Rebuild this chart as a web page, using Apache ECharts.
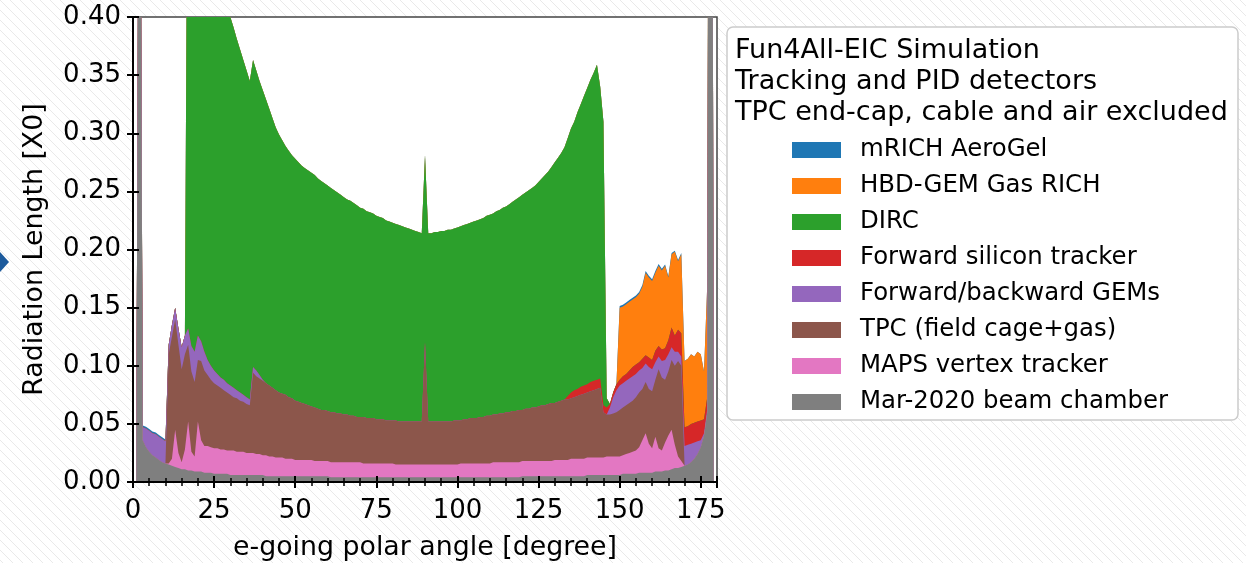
<!DOCTYPE html>
<html><head><meta charset="utf-8">
<script src="https://cdn.jsdelivr.net/npm/echarts@6/dist/echarts.min.js"></script>
<style>html,body{margin:0;padding:0;background:#fff}#c{width:1246px;height:563px}</style>
</head><body><div id="c"></div>
<script>
// x grid: polar angle bins (degrees), one per degree
const angles = Array.from({length: 181}, (_, i) => i);

const yTicks = [0, 0.05, 0.10, 0.15, 0.20, 0.25, 0.30, 0.35, 0.40];
const xTicks = [0, 25, 50, 75, 100, 125, 150, 175];

// Per-detector radiation length (layer thickness, X0) per degree bin
const beamChamber = [
 0,0,0.8,.036,.030,.026,.023,.021,.019,.017,
 .016,.015,.014,.013,.012,.011,.011,.010,.010,.009,
 .009,.009,.008,.008,.008,.007,.007,.007,.007,.007,
 .006,.006,.006,.006,.006,.006,.006,.006,.006,.006,
 .006,.005,.005,.005,.005,.005,.005,.005,.005,.005,
 .005,.005,.005,.005,.005,.005,.005,.005,.005,.005,
 .005,.004,.004,.004,.004,.004,.004,.004,.004,.004,
 .004,.004,.004,.004,.004,.004,.004,.004,.004,.004,
 .004,.004,.004,.004,.004,.004,.004,.004,.004,.004,
 .004,.004,.004,.004,.004,.004,.004,.004,.004,.004,
 .004,.004,.004,.004,.004,.004,.004,.004,.004,.004,
 .004,.004,.004,.004,.004,.004,.004,.004,.004,.004,
 .005,.005,.005,.005,.005,.005,.005,.005,.005,.005,
 .005,.005,.005,.005,.005,.005,.005,.005,.005,.005,
 .006,.006,.006,.006,.006,.006,.006,.006,.006,.006,
 .006,.007,.007,.007,.007,.007,.008,.008,.008,.008,
 .008,.009,.009,.009,.010,.010,.011,.012,.012,.013,
 .014,.015,.017,.020,.024,.030,.040,.060,1.5,0,
 0];
const mapsVertex = [
 0,0,0,0,0,0,0,0,0,0,
 0,.001,.006,.032,.013,.006,.017,.042,.016,.013,
 .043,.027,.023,.023,.022,.022,.022,.021,.021,.020,
 .021,.021,.020,.020,.020,.019,.019,.019,.018,.018,
 .017,.018,.017,.017,.016,.016,.016,.015,.015,.015,
 .014,.014,.014,.014,.014,.014,.013,.013,.013,.013,
 .013,.013,.013,.013,.013,.013,.013,.013,.013,.013,
 .013,.012,.012,.012,.012,.012,.012,.012,.012,.012,
 .012,.011,.011,.011,.011,.011,.011,.011,.011,.011,
 .011,.011,.011,.011,.011,.011,.011,.011,.011,.011,
 .011,.012,.012,.012,.012,.012,.012,.012,.012,.012,
 .012,.013,.013,.013,.013,.013,.013,.013,.013,.013,
 .013,.013,.013,.013,.013,.013,.013,.013,.013,.013,
 .014,.014,.014,.014,.014,.015,.015,.015,.015,.015,
 .015,.015,.015,.015,.015,.015,.016,.016,.016,.016,
 .016,.016,.017,.018,.019,.020,.022,.028,.034,.025,
 .021,.030,.020,.018,.024,.030,.034,.020,.010,.005,
 0,0,0,0,0,0,0,0,0,0,
 0];
const tpc = [
 0,0,0,0,0,0,0,0,0,0,
 0,.094,.105,.095,.093,.080,.082,.066,.069,.064,
 .053,.068,.065,.061,.058,.056,.054,.053,.051,.050,
 .048,.046,.046,.044,.043,.042,.041,.069,.067,.065,
 .064,.062,.061,.059,.058,.056,.055,.055,.053,.052,
 .051,.050,.049,.048,.047,.046,.046,.045,.044,.044,
 .043,.043,.043,.042,.042,.041,.041,.040,.040,.039,
 .039,.040,.039,.039,.039,.038,.038,.038,.037,.037,
 .037,.038,.037,.037,.037,.037,.037,.037,.037,.037,
 .105,.037,.037,.037,.037,.037,.037,.037,.037,.038,
 .038,.037,.038,.038,.039,.039,.039,.040,.040,.041,
 .041,.041,.041,.042,.042,.043,.043,.044,.044,.045,
 .044,.045,.045,.046,.046,.047,.048,.048,.049,.050,
 .049,.050,.051,.052,.052,.052,.053,.054,.055,.056,
 .056,.057,.058,.059,.060,.039,.036,.036,.037,.038,
 .040,.041,.042,.043,.044,.046,.047,.044,.044,.047,
 .049,.049,.068,.063,.054,.055,.060,.068,.082,.082,
 0,0,0,0,0,0,0,0,0,0,
 0];
const gems = [
 0,0,0,.011,.016,.018,.019,.020,.020,.020,
 .019,.008,.010,.010,.014,.019,.016,.014,.022,.026,
 .021,.017,.016,.013,.012,.011,.010,.009,.009,.008,
 .008,.008,.007,.007,.006,.006,.005,.005,.005,.003,
 .001,0,0,0,0,0,0,0,0,0,
 0,0,0,0,0,0,0,0,0,0,
 0,0,0,0,0,0,0,0,0,0,
 0,0,0,0,0,0,0,0,0,0,
 0,0,0,0,0,0,0,0,0,0,
 0,0,0,0,0,0,0,0,0,0,
 0,0,0,0,0,0,0,0,0,0,
 0,0,0,0,0,0,0,0,0,0,
 0,0,0,0,0,0,0,0,0,0,
 0,0,0,0,0,0,0,0,0,0,
 0,0,0,0,0,0,0,.006,.014,.019,
 .021,.021,.021,.021,.021,.020,.019,.018,.016,.019,
 .019,.015,.011,.014,.017,.015,.011,.012,.008,.008,
 .017,.017,.016,.014,.011,.006,.002,.003,0,0,
 0];
const fwdSilicon = [
 0,0,0,0,0,0,0,0,0,0,
 0,0,0,0,0,0,0,0,0,0,
 0,0,0,0,0,0,0,0,0,0,
 0,0,0,0,0,0,0,0,0,0,
 0,0,0,0,0,0,0,0,0,0,
 0,0,0,0,0,0,0,0,0,0,
 0,0,0,0,0,0,0,0,0,0,
 0,0,0,0,0,0,0,0,0,0,
 0,0,0,0,0,0,0,0,0,0,
 0,0,0,0,0,0,0,0,0,0,
 0,0,0,0,0,0,0,0,0,0,
 0,0,0,0,0,0,0,0,0,0,
 0,0,0,0,0,0,0,0,0,0,
 0,0,0,0,.003,.005,.006,.006,.007,.007,
 .007,.008,.008,.008,.008,.006,.006,.003,.004,.005,
 .005,.006,.006,.007,.008,.008,.007,.008,.007,.008,
 .008,.010,.009,.010,.010,.012,.017,.014,.019,.020,
 .016,.016,.017,.017,.017,.017,.012,.010,0,0,
 0];
const dirc = [
 0,0,0,0,0,0,0,0,0,0,
 0,0,0,0,0,0,0,.55,.52,.495,
 .47,.45,.43,.41,.395,.38,.365,.355,.345,.335,
 .317,.310,.302,.295,.288,.281,.274,.264,.258,.253,
 .249,.244,.238,.232,.226,.222,.218,.214,.212,.209,
 .208,.206,.204,.203,.202,.201,.200,.198,.197,.195,
 .194,.193,.191,.190,.188,.187,.185,.185,.183,.182,
 .180,.179,.178,.177,.176,.175,.174,.173,.172,.171,
 .170,.169,.169,.168,.167,.166,.165,.164,.163,.162,
 .161,.162,.162,.163,.163,.164,.164,.165,.165,.165,
 .166,.167,.167,.168,.168,.169,.170,.170,.171,.172,
 .173,.173,.175,.175,.177,.177,.179,.180,.182,.183,
 .185,.186,.188,.189,.191,.193,.195,.198,.200,.203,
 .207,.210,.213,.217,.222,.227,.231,.238,.243,.249,
 .255,.260,.265,.271,.251,.244,.008,0,0,0,
 0,0,0,0,0,0,0,0,0,0,
 0,0,0,0,0,0,0,0,0,0,
 0,0,0,0,0,0,0,0,0,0,
 0];
const hbdGem = [
 0,0,0,0,0,0,0,0,0,0,
 0,0,0,0,0,0,0,0,0,0,
 0,0,0,0,0,0,0,0,0,0,
 0,0,0,0,0,0,0,0,0,0,
 0,0,0,0,0,0,0,0,0,0,
 0,0,0,0,0,0,0,0,0,0,
 0,0,0,0,0,0,0,0,0,0,
 0,0,0,0,0,0,0,0,0,0,
 0,0,0,0,0,0,0,0,0,0,
 0,0,0,0,0,0,0,0,0,0,
 0,0,0,0,0,0,0,0,0,0,
 0,0,0,0,0,0,0,0,0,0,
 0,0,0,0,0,0,0,0,0,0,
 0,0,0,0,0,0,0,0,0,0,
 0,0,0,0,0,0,0,0,0,0,
 .062,.060,.060,.059,.058,.058,.059,.062,.071,.069,
 .068,.067,.069,.068,.071,.054,.063,.072,.059,.068,
 .057,.058,.060,.057,.060,.057,.041,.097,0,0,
 0];
const mrich = [
 0,0,0,.0015,.0015,.0015,.0015,.0015,.0015,.0015,
 .0015,0,0,0,0,0,0,0,0,0,
 0,0,0,0,0,0,0,0,0,0,
 0,0,0,0,0,0,0,0,0,0,
 0,0,0,0,0,0,0,0,0,0,
 0,0,0,0,0,0,0,0,0,0,
 0,0,0,0,0,0,0,0,0,0,
 0,0,0,0,0,0,0,0,0,0,
 0,0,0,0,0,0,0,0,0,0,
 0,0,0,0,0,0,0,0,0,0,
 0,0,0,0,0,0,0,0,0,0,
 0,0,0,0,0,0,0,0,0,0,
 0,0,0,0,0,0,0,0,0,0,
 0,0,0,0,0,0,0,0,0,0,
 0,0,0,0,0,0,0,0,0,0,
 .0015,.0015,.0015,.0015,.0015,.0015,.0015,.0015,.0015,.0015,
 .0015,.0015,.0015,.0015,.001,.001,.001,.001,.001,.001,
 0,0,0,0,0,0,0,0,0,0,
 0];

// stacking order: bottom -> top
const layerNames = ['Mar-2020 beam chamber','MAPS vertex tracker','TPC (field cage+gas)',
  'Forward/backward GEMs','Forward silicon tracker','DIRC','HBD-GEM Gas RICH','mRICH AeroGel'];
const layerColors = ['#7f7f7f','#e377c2','#8c564b','#9467bd','#d62728','#2ca02c','#ff7f0e','#1f77b4'];
const layerData = [beamChamber, mapsVertex, tpc, gems, fwdSilicon, dirc, hbdGem, mrich];
const legendTitle = ['Fun4All-EIC Simulation','Tracking and PID detectors','TPC end-cap, cable and air excluded'];

// cumulative tops
const cum = [];
let running = angles.map(() => 0);
layerData.forEach(arr => { running = running.map((v, i) => v + arr[i]); cum.push(running.slice()); });

const series = [];
for (let k = layerData.length - 1; k >= 0; k--) {
  series.push({
    name: layerNames[k], type: 'line', xAxisIndex: 0, yAxisIndex: 0,
    data: angles.map((a, i) => [a, cum[k][i]]),
    symbol: 'none', showSymbol: false, silent: true, animation: false,
    lineStyle: {width: 0, color: layerColors[k]},
    itemStyle: {color: layerColors[k]},
    areaStyle: {color: layerColors[k], opacity: 1},
    clip: true, z: 2
  });
}

// hatch background
const pat = document.createElement('canvas');
pat.width = 10; pat.height = 10;
const pc = pat.getContext('2d');
pc.strokeStyle = '#e9e9e9'; pc.lineWidth = 1;
pc.beginPath(); pc.moveTo(-1,-1); pc.lineTo(11,11); pc.moveTo(-1,9); pc.lineTo(1,11); pc.moveTo(9,-1); pc.lineTo(11,1); pc.stroke();

const FONT = 'DejaVu Sans';
const baseX = {
  type: 'value', min: 0, max: 180, interval: 25, position: 'bottom', z: 10,
  splitLine: {show: false}
};
const baseY = {
  type: 'value', min: 0, max: 0.4, interval: 0.05, position: 'left', z: 10,
  splitLine: {show: false}
};

const chart = echarts.init(document.getElementById('c'), null, {renderer: 'canvas'});
chart.setOption({
  animation: false,
  backgroundColor: {image: pat, repeat: 'repeat'},
  grid: {left: 133, top: 17, width: 584, height: 465, show: true, backgroundColor: '#fff',
         borderColor: '#444', borderWidth: 1.5, containLabel: false, outerBoundsMode: 'none'},
  xAxis: [
    Object.assign({}, baseX, {
      name: 'e-going polar angle [degree]', nameLocation: 'middle', nameGap: 53,
      nameTextStyle: {fontFamily: FONT, fontSize: 26.8, color: '#000'},
      axisLine: {show: true, onZero: false, lineStyle: {color: '#000', width: 2}},
      axisTick: {show: true, inside: false, length: 6, lineStyle: {color: '#000', width: 2}},
      minorTick: {show: true, splitNumber: 5, length: 4, lineStyle: {color: '#000', width: 1.5}},
      axisLabel: {show: true, margin: 16, fontFamily: FONT, fontSize: 26, color: '#000',
        showMaxLabel: false, formatter: v => (xTicks.indexOf(v) >= 0 ? String(v) : '')}
    }),
    Object.assign({}, baseX, {
      axisLine: {show: false, onZero: false},
      axisTick: {show: true, inside: true, length: 6, lineStyle: {color: '#000', width: 2}},
      minorTick: {show: true, splitNumber: 5, length: 4, lineStyle: {color: '#000', width: 1.5}},
      axisLabel: {show: false}
    })
  ],
  yAxis: [
    Object.assign({}, baseY, {
      name: 'Radiation Length [X0]', nameLocation: 'middle', nameGap: 84, nameRotate: 90,
      nameTextStyle: {fontFamily: FONT, fontSize: 26.8, color: '#000'},
      axisLine: {show: true, onZero: false, lineStyle: {color: '#000', width: 2}},
      axisTick: {show: true, inside: false, length: 6, lineStyle: {color: '#000', width: 2}},
      axisLabel: {show: true, margin: 12, fontFamily: FONT, fontSize: 26, color: '#000',
        formatter: v => { const t = yTicks.find(q => Math.abs(q - v) < 1e-9); return t === undefined ? '' : t.toFixed(2); }}
    }),
    Object.assign({}, baseY, {
      axisLine: {show: false, onZero: false},
      axisTick: {show: true, inside: true, length: 6, lineStyle: {color: '#000', width: 2}},
      axisLabel: {show: false}
    })
  ],
  legend: {
    orient: 'vertical', left: 792, top: 138, padding: 0, itemWidth: 49, itemHeight: 16, itemGap: 12,
    icon: 'rect', selectedMode: false, z: 6,
    data: layerNames.slice().reverse(),
    textStyle: {fontFamily: FONT, fontSize: 24.4, color: '#000', lineHeight: 24, padding: [0, 0, 0, 14]}
  },
  graphic: [
    {type: 'polygon', shape: {points: [[0,252],[9,262],[0,272]]}, style: {fill: '#1c5a9c'}, z: 1},
    {type: 'rect', shape: {x: 727, y: 27, width: 511, height: 393, r: 6},
     style: {fill: '#fff', stroke: '#cccccc', lineWidth: 1.5}, z: 1},
    ...legendTitle.map((t, i) => ({
      type: 'text', z: 5,
      style: {text: t, x: 735, y: 51 + i * 31, fill: '#000', font: '27px "DejaVu Sans"',
              align: 'left', verticalAlign: 'middle'}
    }))
  ],
  series: series
});
</script></body></html>
